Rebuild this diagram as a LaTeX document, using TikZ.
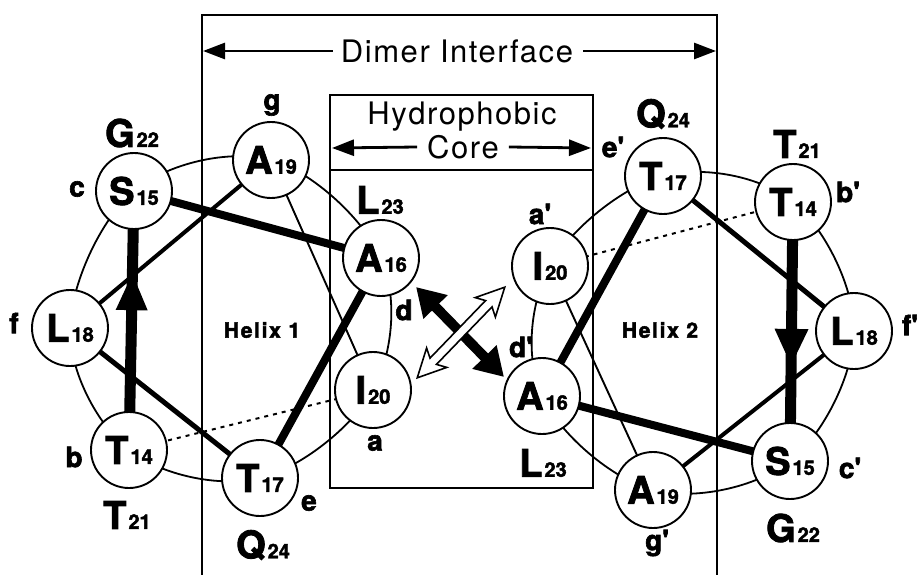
\documentclass[tikz,border=0pt]{standalone}
\usepackage{fontspec}
\setmainfont{TeX Gyre Heros}
\newfontfamily\heavy{TeX Gyre Heros}[BoldFeatures={FakeBold=2.2}]
\usetikzlibrary{arrows.meta,calc,backgrounds}
\newcommand{\resl}[2]{{\heavy\bfseries\fontsize{38}{38}\selectfont #1\hspace{2pt}{\fontsize{20}{20}\selectfont #2}}}
\newcommand{\hl}[1]{{\heavy\bfseries\fontsize{28}{28}\selectfont #1}}
\newcommand{\pr}{\textquotesingle}
\tikzset{
 res/.style={circle, draw, line width=1.9pt, fill=white, minimum size=76pt, inner sep=0pt},
 lab/.style={inner sep=0pt},
 box/.style={line width=1.9pt},
 ring/.style={line width=1.8pt},
 hdr/.style={inner sep=0pt, font=\fontsize{31}{31}\selectfont\addfontfeature{LetterSpace=5}},
 harrow/.style={line width=2.8pt, -{Triangle[length=22pt,width=16pt]}},
 helix/.style={inner sep=0pt, font=\heavy\bfseries\fontsize{21}{21}\selectfont\addfontfeature{LetterSpace=8}},
 lk1/.style={line width=11pt},
 lk2/.style={line width=8pt},
 lk3/.style={line width=5pt},
 lk4/.style={line width=4pt},
 lk5/.style={line width=1.9pt},
 lk6/.style={line width=2pt, dash pattern=on 4pt off 5pt},
}
\begin{document}
\begin{tikzpicture}[x=1pt,y=-1pt]
\useasboundingbox (0,0) rectangle (923,575);
% boxes
\draw[box] (202,575) -- (202,15) -- (717,15) -- (717,575);
\draw[box] (330,95) rectangle (593,488);
\draw[box] (330,170) -- (593,170);
% headers
\node[hdr] (dimer) at (457,51) {Dimer Interface};
\coordinate (dL) at (203,51);
\coordinate (dR) at (716,51);
\draw[harrow] ([xshift=-8pt]dimer.west) -- (dL);
\draw[harrow] ([xshift=10pt]dimer.east) -- (dR);
\node[hdr] (hyd) at (462,117) {Hydrophobic};
\node[hdr] (core) at (463,147) {Core};
\coordinate (cL) at (332,148);
\coordinate (cR) at (591,148);
\draw[harrow] ([xshift=-10pt]core.west) -- (cL);
\draw[harrow] ([xshift=10pt]core.east) -- (cR);
% left helix residues
\node[res] (S15) at (134,191) {\resl{S}{15}};
\node[res] (A19) at (271,160) {\resl{A}{19}};
\node[res] (A16) at (381,258) {\resl{A}{16}};
\node[res] (I20) at (373,390) {\resl{I}{20}};
\node[res] (T17) at (260,478) {\resl{T}{17}};
\node[res] (T14) at (129,450) {\resl{T}{14}};
\node[res] (L18) at (70,328) {\resl{L}{18}};
% right helix residues
\node[res] (S15r) at (790,461) {\resl{S}{15}};
\node[res] (A19r) at (653,490) {\resl{A}{19}};
\node[res] (A16r) at (542,396) {\resl{A}{16}};
\node[res] (I20r) at (550,266) {\resl{I}{20}};
\node[res] (T17r) at (663,176) {\resl{T}{17}};
\node[res] (T14r) at (793,202) {\resl{T}{14}};
\node[res] (L18r) at (854,331) {\resl{L}{18}};
\begin{scope}[on background layer]
\draw[ring] plot[smooth cycle, tension=0.6] coordinates {(S15.center) (A19.center) (A16.center) (I20.center) (T17.center) (T14.center) (L18.center)};
\draw[ring] plot[smooth cycle, tension=0.6] coordinates {(S15r.center) (A19r.center) (A16r.center) (I20r.center) (T17r.center) (T14r.center) (L18r.center)};
\draw[lk1] (T14.center) -- (S15.center);
\draw[lk2] (S15.center) -- (A16.center);
\draw[lk2] (A16.center) -- (T17.center);
\draw[lk3] (T17.center) -- (L18.center);
\draw[lk4] (L18.center) -- (A19.center);
\draw[lk5] (A19.center) -- (I20.center);
\draw[lk6] (I20.center) -- (T14.center);
\draw[lk1] (T14r.center) -- (S15r.center);
\draw[lk2] (S15r.center) -- (A16r.center);
\draw[lk2] (A16r.center) -- (T17r.center);
\draw[lk3] (T17r.center) -- (L18r.center);
\draw[lk4] (L18r.center) -- (A19r.center);
\draw[lk5] (A19r.center) -- (I20r.center);
\draw[lk6] (I20r.center) -- (T14r.center);
\end{scope}
% mid arrowheads
\coordinate (tipL) at ($(T14)!0.68!(S15)$);
\coordinate (basL) at ($(T14)!0.54!(S15)$);
\fill ($(basL)!16pt!90:(tipL)$) -- (tipL) -- ($(basL)!16pt!-90:(tipL)$) -- cycle;
\coordinate (tipR) at ($(T14r)!0.63!(S15r)$);
\coordinate (basR) at ($(T14r)!0.49!(S15r)$);
\fill ($(basR)!17pt!90:(tipR)$) -- (tipR) -- ($(basR)!17pt!-90:(tipR)$) -- cycle;
% left labels
\node[lab] (G22) at (132,133) {\resl{G}{22}};
\node[lab] (lc) at (77,189) {\hl{c}};
\node[lab] (lg) at (272,105) {\hl{g}};
\node[lab] (L23) at (380,200) {\resl{L}{23}};
\node[lab] (ld) at (404,310) {\hl{d}};
\node[lab] (la) at (375,443) {\hl{a}};
\node[lab] (le) at (309,503) {\hl{e}};
\node[lab] (Q24) at (263,545) {\resl{Q}{24}};
\node[lab] (lb) at (74,457) {\hl{b}};
\node[lab] (T21) at (127,515) {\resl{T}{21}};
\node[lab] (lf) at (14,323) {\hl{f}};
% right labels
\node[lab] (G22r) at (793,528) {\resl{G}{22}};
\node[lab] (lcr) at (850,468) {\hl{c\pr}};
\node[lab] (lgr) at (657,543) {\hl{g\pr}};
\node[lab] (L23r) at (543,463) {\resl{L}{23}};
\node[lab] (ldr) at (521,347) {\hl{d\pr}};
\node[lab] (lar) at (540,214) {\hl{a\pr}};
\node[lab] (ler) at (613,147) {\hl{e\pr}};
\node[lab] (Q24r) at (663,114) {\resl{Q}{24}};
\node[lab] (T21r) at (797,144) {\resl{T}{21}};
\node[lab] (lbr) at (848,192) {\hl{b\pr}};
\node[lab] (lfr) at (910,325) {\hl{f\pr}};
% helix labels
\node[helix] (h1) at (262,330) {Helix 1};
\node[helix] (h2) at (660,330) {Helix 2};
% central arrows
\coordinate (bx1) at (416,287);
\coordinate (bx2) at (504,377);
\draw[line width=10pt, {Triangle[length=28pt,width=32pt]}-{Triangle[length=28pt,width=32pt]}] (bx1) -- (bx2);
\coordinate (ox1) at (417,378);
\coordinate (ox2) at (505,287);
\begin{scope}[shift={($(ox1)!0.5!(ox2)$)}, rotate=46]
\filldraw[fill=white, line width=1.6pt, line join=miter]
  (-63,0) -- (-35,14) -- (-40,4.5) -- (40,4.5) -- (35,14) -- (63,0)
  -- (35,-14) -- (40,-4.5) -- (-40,-4.5) -- (-35,-14) -- cycle;
\end{scope}
\end{tikzpicture}
\end{document}
